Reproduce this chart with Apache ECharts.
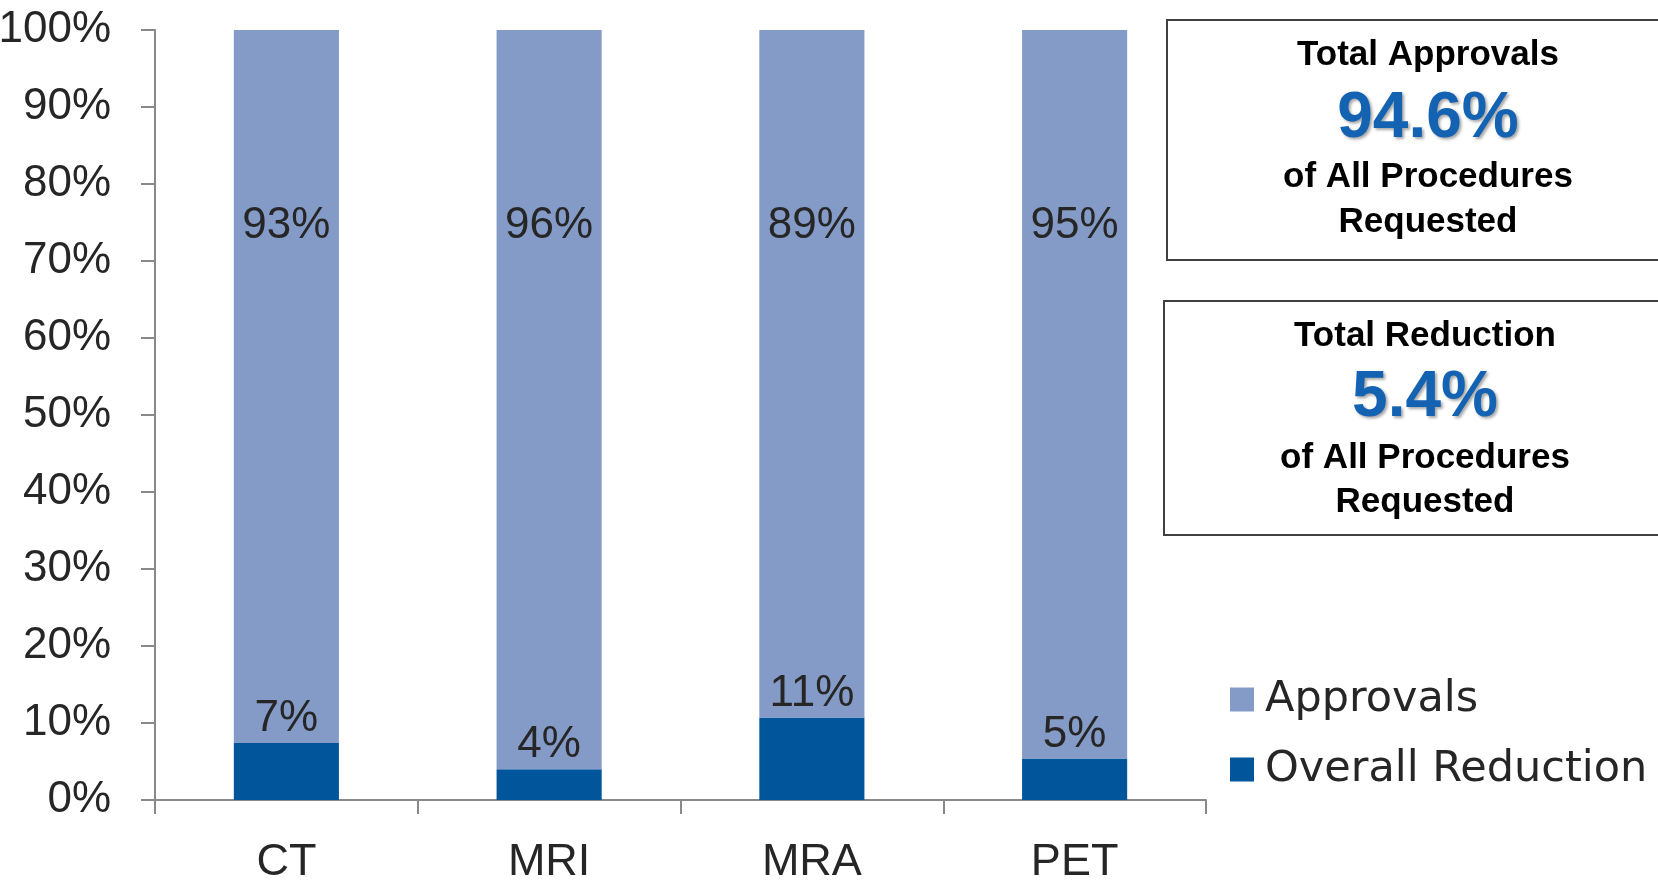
<!DOCTYPE html>
<html>
<head>
<meta charset="utf-8">
<script src="https://cdn.jsdelivr.net/npm/echarts@6/dist/echarts.min.js"></script>
<style>
html,body{margin:0;padding:0;background:#fff;}
#chart{width:1658px;height:880px;}
</style>
</head>
<body>
<div id="chart"></div>
<script>
const categories = ['CT', 'MRI', 'MRA', 'PET'];
const reductionValues = [7.4, 4.0, 10.7, 5.4];
const approvalValues = [92.6, 96.0, 89.3, 94.6];
const seriesNames = ['Approvals', 'Overall Reduction'];
const yTicks = [0, 10, 20, 30, 40, 50, 60, 70, 80, 90, 100];
const totalApprovals = '94.6%';
const totalReduction = '5.4%';
const boxTitles = ['Total Approvals', 'Total Reduction'];
const boxLine1 = 'of All Procedures';
const boxLine2 = 'Requested';

const numFont = '"Liberation Sans Narrow", "Liberation Sans", sans-serif';
const boldFont = '"Liberation Sans", sans-serif';
const textColor = '#262626';
const axisColor = '#898989';

const chart = echarts.init(document.getElementById('chart'));

function boxTexts(title, big, yTitle, yBig, yL1, yL2, cx) {
  const base = {align: 'center', verticalAlign: 'middle', fill: '#000', fontFamily: boldFont, fontWeight: 'bold', fontSize: 35};
  return [
    {type: 'text', x: cx, y: yTitle, style: Object.assign({}, base, {text: title})},
    {type: 'text', x: cx, y: yBig, style: Object.assign({}, base, {text: big, fill: '#1463B3', fontSize: 64, textShadowColor: 'rgba(0,0,0,0.35)', textShadowBlur: 3, textShadowOffsetX: 2, textShadowOffsetY: 2})},
    {type: 'text', x: cx, y: yL1, style: Object.assign({}, base, {text: boxLine1})},
    {type: 'text', x: cx, y: yL2, style: Object.assign({}, base, {text: boxLine2})}
  ];
}

const option = {
  animation: false,
  backgroundColor: '#fff',
  grid: {left: 155, top: 30, width: 1051, height: 770, containLabel: false, outerBoundsMode: 'none'},
  legend: {
    orient: 'vertical',
    left: 1225,
    top: 673,
    itemWidth: 24,
    itemHeight: 24,
    itemGap: 27,
    icon: 'rect',
    data: seriesNames,
    textStyle: {fontFamily: '"DejaVu Sans", sans-serif', fontSize: 43, color: textColor, padding: [0, 0, 0, 6]}
  },
  xAxis: {
    type: 'category',
    data: categories,
    boundaryGap: true,
    axisLine: {show: true, lineStyle: {color: axisColor, width: 2}},
    axisTick: {show: true, length: 14, lineStyle: {color: axisColor, width: 2}},
    axisLabel: {fontFamily: numFont, fontSize: 45, color: textColor, margin: 40}
  },
  yAxis: {
    type: 'value',
    min: yTicks[0],
    max: yTicks[yTicks.length - 1],
    interval: 10,
    axisLine: {show: true, lineStyle: {color: axisColor, width: 2}},
    axisTick: {show: true, length: 14, lineStyle: {color: axisColor, width: 2}},
    splitLine: {show: false},
    axisLabel: {fontFamily: numFont, fontSize: 44, color: textColor, margin: 44, formatter: '{value}%'}
  },
  series: [
    {
      name: seriesNames[1],
      type: 'bar',
      stack: 'total',
      barWidth: '40%',
      data: reductionValues,
      itemStyle: {color: '#00559B'},
      label: {show: true, position: 'top', distance: 2, fontFamily: numFont, fontSize: 44, color: textColor,
        formatter: p => Math.round(p.value) + '%'}
    },
    {
      name: seriesNames[0],
      type: 'bar',
      stack: 'total',
      barWidth: '40%',
      data: approvalValues,
      itemStyle: {color: '#849BC7'},
      label: {show: true, position: ['50%', 196], align: 'center', verticalAlign: 'middle', fontFamily: numFont, fontSize: 44, color: textColor,
        formatter: p => Math.round(p.value) + '%'}
    }
  ],
  graphic: [
    {type: 'rect', shape: {x: 1167, y: 20, width: 520, height: 240}, style: {fill: '#fff', stroke: '#404040', lineWidth: 2}},
    {type: 'rect', shape: {x: 1164, y: 301, width: 520, height: 234}, style: {fill: '#fff', stroke: '#404040', lineWidth: 2}}
  ].concat(
    boxTexts(boxTitles[0], totalApprovals, 55, 119, 177, 222, 1428),
    boxTexts(boxTitles[1], totalReduction, 336, 398, 458, 502, 1425)
  )
};
chart.setOption(option);
</script>
</body>
</html>
